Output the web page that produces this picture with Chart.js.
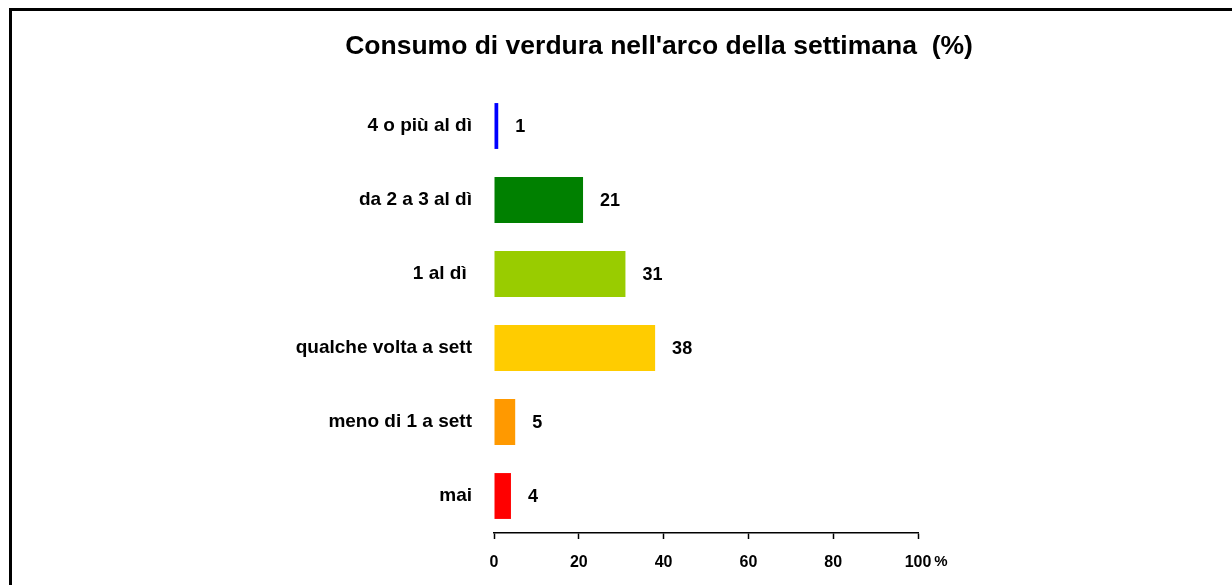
<!DOCTYPE html>
<html>
<head>
<meta charset="utf-8">
<title>Consumo di verdura</title>
<script src="https://cdn.jsdelivr.net/npm/chart.js@4/dist/chart.umd.min.js"></script>
<style>
	html, body { margin: 0; padding: 0; background: #fff; }
	#wrap { position: relative; width: 1232px; height: 585px; }
	#frame {
		position: absolute; left: 9px; top: 8px; right: 0; bottom: 0;
		border-left: 3px solid #000; border-top: 3px solid #000;
		pointer-events: none;
	}
</style>
</head>
<body>
<div id="wrap">
	<canvas id="chart" width="1232" height="585"></canvas>
	<div id="frame"></div>
</div>
<script>
var categories = ['4 o più al dì', 'da 2 a 3 al dì', '1 al dì ', 'qualche volta a sett', 'meno di 1 a sett', 'mai'];
var values = [1, 21, 31, 38, 5, 4];
var colors = ['#0000FF', '#008000', '#99CC00', '#FFCC00', '#FF9900', '#FF0000'];
var tickValues = [0, 20, 40, 60, 80, 100];
var titleText = "Consumo di verdura nell'arco della settimana  (%)";

var FONT = '"Liberation Sans", Arial, sans-serif';

// title is centred on the whole page, not on the plot
var pageTitle = {
	id: 'pageTitle',
	afterDraw: function(chart) {
		var ctx = chart.ctx;
		ctx.save();
		ctx.font = 'bold 26.5px ' + FONT;
		ctx.fillStyle = '#000';
		ctx.textAlign = 'center';
		ctx.textBaseline = 'alphabetic';
		ctx.fillText(titleText, 659, 54);
		ctx.restore();
	}
};

// writes the value next to each bar
var valueLabels = {
	id: 'valueLabels',
	afterDatasetsDraw: function(chart) {
		var ctx = chart.ctx;
		var meta = chart.getDatasetMeta(0);
		ctx.save();
		ctx.font = 'bold 18px ' + FONT;
		ctx.fillStyle = '#000';
		ctx.textAlign = 'left';
		ctx.textBaseline = 'middle';
		meta.data.forEach(function(bar, i) {
			ctx.fillText(String(values[i]), bar.x + 17, bar.y + 1);
		});
		ctx.restore();
	}
};

// the "%" after the last tick
var percentSign = {
	id: 'percentSign',
	afterDraw: function(chart) {
		var ctx = chart.ctx;
		var x = chart.scales.x;
		var last = tickValues[tickValues.length - 1];
		ctx.save();
		ctx.font = 'bold 16px ' + FONT;
		var w = ctx.measureText(String(last)).width;
		ctx.font = 'bold 15px ' + FONT;
		ctx.fillStyle = '#000';
		ctx.textAlign = 'left';
		ctx.textBaseline = 'top';
		ctx.fillText('%', x.getPixelForValue(last) + w / 2 + 3, x.top + 6 + 14 + 1);
		ctx.restore();
	}
};

var ctx = document.getElementById('chart').getContext('2d');
var chart = new Chart(ctx, {
	type: 'bar',
	data: {
		labels: categories,
		datasets: [{
			data: values,
			backgroundColor: colors,
			borderWidth: 0,
			categoryPercentage: 1,
			barPercentage: 0.62
		}]
	},
	options: {
		indexAxis: 'y',
		responsive: false,
		animation: false,
		layout: { padding: { left: 0, right: 314, top: 89, bottom: 0 } },
		plugins: {
			legend: { display: false },
			tooltip: { enabled: false },
			title: { display: false }
		},
		scales: {
			x: {
				min: 0,
				max: 100,
				afterBuildTicks: function(scale) {
					scale.ticks = tickValues.map(function(v) { return { value: v }; });
				},
				afterFit: function(scale) { scale.height = 52; },
				grid: { display: true, drawOnChartArea: false, drawTicks: true, tickLength: 6, tickColor: '#000', tickWidth: 1.5 },
				border: { display: true, color: '#000', width: 1.5 },
				ticks: {
					color: '#000',
					padding: 14,
					maxRotation: 0,
					font: { family: FONT, size: 16, weight: 'bold' }
				}
			},
			y: {
				afterFit: function(scale) { scale.width = 494; },
				grid: { display: false, drawTicks: false },
				border: { display: false },
				ticks: {
					color: '#000',
					padding: 22,
					font: { family: FONT, size: 19, weight: 'bold' }
				}
			}
		}
	},
	plugins: [valueLabels, percentSign, pageTitle]
});
</script>
</body>
</html>
